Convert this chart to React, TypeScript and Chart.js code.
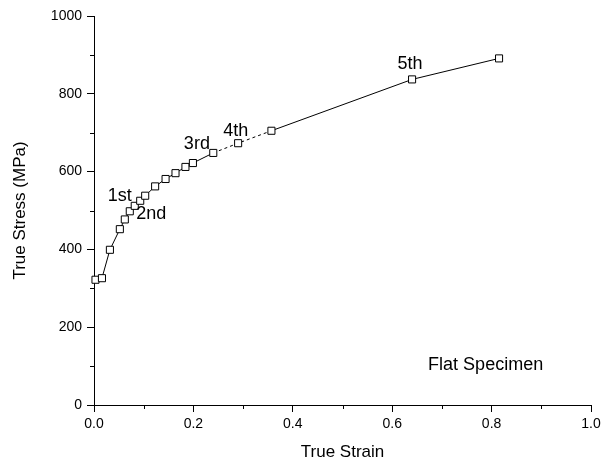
import { useEffect, useRef } from 'react';
import { Chart, registerables } from 'chart.js';

Chart.register(...registerables);

// True strain / true stress data points
const strain = [0.003, 0.016, 0.032, 0.052, 0.062, 0.072, 0.082, 0.093, 0.103, 0.123, 0.144, 0.164, 0.184, 0.199, 0.24, 0.29, 0.357, 0.64, 0.815];
const stress = [322, 326, 399, 452, 477, 498, 512, 525, 538, 562, 581, 596, 612, 622, 648, 673, 705, 837, 891];
// segment start indices drawn with a dashed line
const dashedSegments = [14, 15];

// text annotations (data coordinates)
const noteText = ['1st', '2nd', '3rd', '4th', '5th', 'Flat Specimen'];
const noteX = [0.052, 0.115, 0.207, 0.285, 0.636, 0.788];
const noteY = [536, 492, 671, 705, 877, 103];

const xTitle = 'True Strain';
const yTitle = 'True Stress (MPa)';

const FONT = '"Liberation Sans", Arial, sans-serif';

const minorTicks = {
  id: 'minorTicks',
  afterDraw(chart: any) {
    const ctx = chart.ctx;
    ctx.save();
    ctx.strokeStyle = '#000';
    ctx.lineWidth = 1;
    const xs = chart.scales.x;
    xs.ticks.forEach((t: any, i: number) => {
      if (i % 2 === 1) {
        const px = Math.round(xs.getPixelForTick(i)) + 0.5;
        ctx.beginPath();
        ctx.moveTo(px, xs.top);
        ctx.lineTo(px, xs.top + 4);
        ctx.stroke();
      }
    });
    const ys = chart.scales.y;
    ys.ticks.forEach((t: any, i: number) => {
      if (i % 2 === 1) {
        const py = Math.round(ys.getPixelForTick(i)) + 0.5;
        ctx.beginPath();
        ctx.moveTo(ys.right, py);
        ctx.lineTo(ys.right - 4, py);
        ctx.stroke();
      }
    });
    ctx.restore();
  },
};

const notes = {
  id: 'notes',
  afterDatasetsDraw(chart: any) {
    const ctx = chart.ctx;
    const xs = chart.scales.x;
    const ys = chart.scales.y;
    ctx.save();
    ctx.fillStyle = '#000';
    ctx.font = `18px ${FONT}`;
    ctx.textAlign = 'center';
    ctx.textBaseline = 'middle';
    noteText.forEach((t, i) => {
      ctx.fillText(t, xs.getPixelForValue(noteX[i]), ys.getPixelForValue(noteY[i]));
    });
    ctx.restore();
  },
};

export default function App() {
  const ref = useRef<HTMLCanvasElement>(null);
  useEffect(() => {
    document.body.style.margin = '0';
    const chart = new Chart(ref.current!, {
      type: 'line',
      data: {
        datasets: [
          {
            data: strain.map((x, i) => ({ x, y: stress[i] })),
            borderColor: '#000',
            borderWidth: 1,
            pointStyle: 'rect',
            pointRadius: 5,
            pointBackgroundColor: '#fff',
            pointBorderColor: '#000',
            pointBorderWidth: 1,
            tension: 0,
            clip: false as any,
            segment: {
              borderDash: (c: any) => (dashedSegments.includes(c.p0DataIndex) ? [3, 3] : undefined),
            },
          },
        ],
      },
      options: {
        animation: false,
        responsive: false,
        layout: { padding: { top: 16, right: 21, left: 0, bottom: 0 } },
        plugins: { legend: { display: false }, tooltip: { enabled: false } },
        scales: {
          x: {
            type: 'linear',
            min: 0,
            max: 1,
            afterFit: (s: any) => { s.height = 60; },
            ticks: {
              stepSize: 0.1,
              color: '#000',
              font: { family: FONT, size: 14 },
              padding: 4,
              maxRotation: 0,
              autoSkip: false,
              callback: (v: any, i: number) => (i % 2 === 0 ? Number(v).toFixed(1) : ''),
            },
            grid: {
              drawOnChartArea: false,
              tickLength: 7,
              tickColor: (c: any) => (c.index % 2 === 0 ? '#000' : 'rgba(0,0,0,0)'),
            },
            border: { color: '#000', width: 1 },
            title: { display: true, text: xTitle, color: '#000', font: { family: FONT, size: 17 }, padding: { top: 0, bottom: 2 } },
          },
          y: {
            type: 'linear',
            min: 0,
            max: 1000,
            afterFit: (s: any) => { s.width = 94; },
            ticks: {
              stepSize: 100,
              color: '#000',
              font: { family: FONT, size: 14 },
              padding: 5,
              autoSkip: false,
              callback: (v: any, i: number) => (i % 2 === 0 ? String(v) : ''),
            },
            grid: {
              drawOnChartArea: false,
              tickLength: 7,
              tickColor: (c: any) => (c.index % 2 === 0 ? '#000' : 'rgba(0,0,0,0)'),
            },
            border: { color: '#000', width: 1 },
            title: { display: true, text: yTitle, color: '#000', font: { family: FONT, size: 17 }, padding: { top: 10, bottom: 0 } },
          },
        },
      },
      plugins: [minorTicks, notes],
    });
    return () => chart.destroy();
  }, []);
  return (
    <div style={{ width: 612, height: 465 }}>
      <canvas ref={ref} width={612} height={465} />
    </div>
  );
}
